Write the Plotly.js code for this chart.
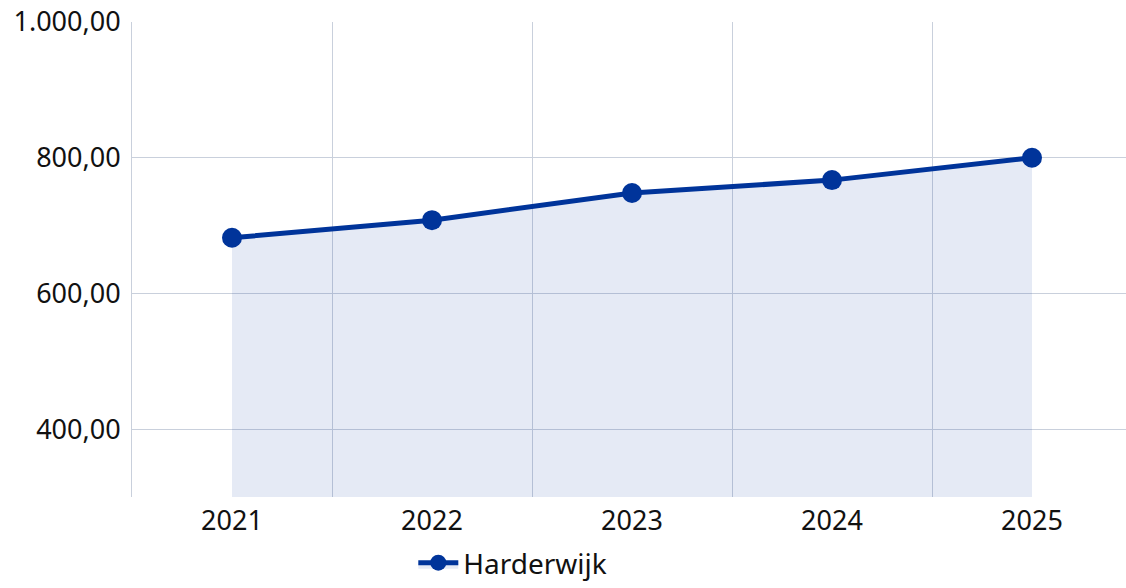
<!DOCTYPE html>
<html>
<head>
<meta charset="utf-8">
<script src="https://cdn.plot.ly/plotly-3.0.1.min.js"></script>
<style>html,body{margin:0;padding:0;background:#fff;}#chart{width:1126px;height:588px;}</style>
</head>
<body>
<div id="chart"></div>
<script>
var years = [2021, 2022, 2023, 2024, 2025];
var values = [682, 708, 748, 767, 800];
var seriesName = "Harderwijk";
var yTicks = [400, 600, 800, 1000];

var trace = {
  x: years,
  y: values,
  name: seriesName,
  type: "scatter",
  mode: "lines+markers",
  fill: "tozeroy",
  fillcolor: "rgba(0,52,154,0.1)",
  line: {color: "#00349A", width: 5},
  marker: {color: "#00349A", size: 20},
  hoverinfo: "x+y"
};

var layout = {
  width: 1126, height: 588,
  margin: {l: 132, r: 0, t: 22, b: 91, autoexpand: false},
  paper_bgcolor: "#fff", plot_bgcolor: "#fff",
  separators: ",.",
  font: {family: "Noto Sans, Open Sans, sans-serif", size: 27, color: "#111"},
  showlegend: true,
  legend: {orientation: "h", itemwidth: 40, x: 0.283, xanchor: "left", yref: "container", y: -0.012, yanchor: "bottom", font: {size: 28, color: "#111"}},
  xaxis: {
    type: "linear",
    range: [2020.5, 2025.47],
    tickmode: "array", tickvals: years, ticktext: years.map(String),
    showgrid: false, zeroline: false, showline: false,
    ticks: "", ticklen: 0, ticklabelstandoff: 5,
    minor: {tickmode: "linear", tick0: 2020.5, dtick: 1, showgrid: true, gridcolor: "#C9D0DC", gridwidth: 1, ticks: ""}
  },
  yaxis: {
    range: [300, 1000],
    tickmode: "array", tickvals: yTicks,
    tickformat: ",.2f",
    showgrid: true, gridcolor: "#C9D0DC", gridwidth: 1,
    zeroline: false, showline: true, linecolor: "#C9D0DC", linewidth: 1,
    ticks: "", ticklabelstandoff: 5
  }
};

Plotly.newPlot("chart", [trace], layout, {displayModeBar: false, staticPlot: true});
</script>
</body>
</html>
